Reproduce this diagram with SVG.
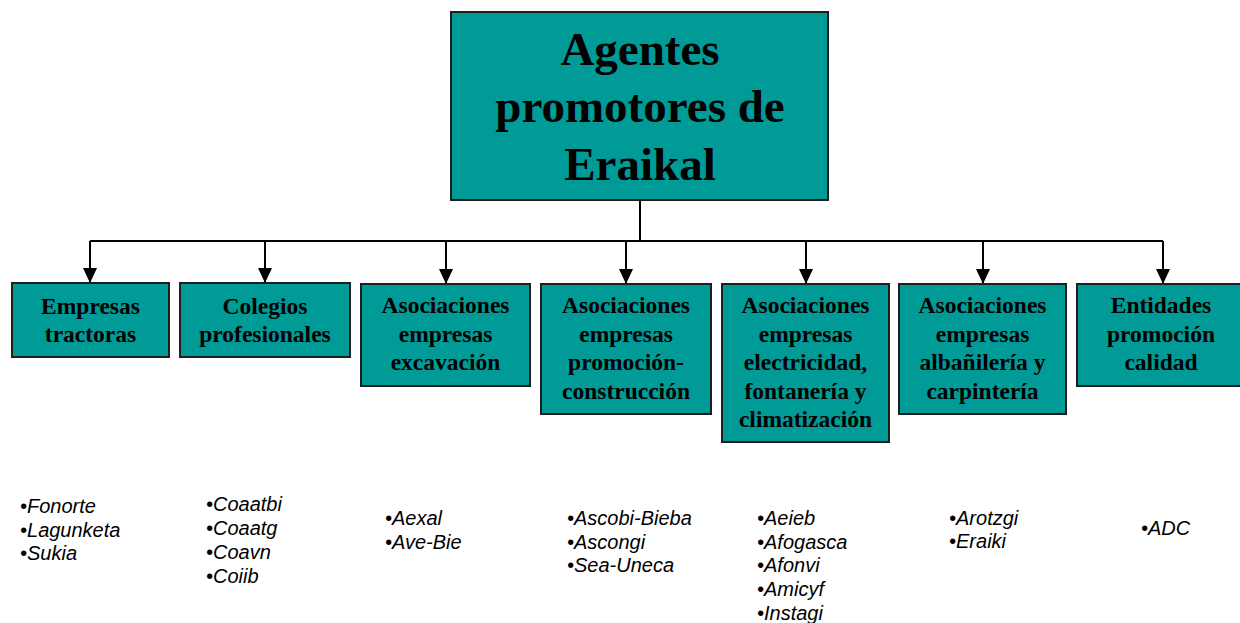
<svg xmlns="http://www.w3.org/2000/svg" width="1240" height="623" viewBox="0 0 1240 623">
<style>
.box{fill:#009a97;stroke:#1e1e1e;stroke-width:2}
.t{font-family:"Liberation Serif","Times New Roman",serif;font-weight:bold;fill:#000;text-anchor:middle}
.tt{font-size:47px}
.ts{font-size:23.5px}
.l{font-family:"Liberation Sans",Arial,sans-serif;font-style:italic;font-size:20px;fill:#000}
.c{fill:none;stroke:#000;stroke-width:2}
</style>
<defs>
<marker id="ah" markerUnits="userSpaceOnUse" markerWidth="15" markerHeight="14" refX="15" refY="7" orient="auto" viewBox="0 0 15 14">
<path d="M0,0 L15,7 L0,14 Z" fill="#000"/>
</marker>
</defs>
<rect width="1240" height="623" fill="#fff"/>
<g id="connectors">
<path class="c" d="M640,200 V241"/>
<path class="c" d="M90,241 H1163"/>
<path class="c" d="M90,241 V283" marker-end="url(#ah)"/>
<path class="c" d="M265,241 V283" marker-end="url(#ah)"/>
<path class="c" d="M446,241 V284" marker-end="url(#ah)"/>
<path class="c" d="M626,241 V284" marker-end="url(#ah)"/>
<path class="c" d="M806,241 V284" marker-end="url(#ah)"/>
<path class="c" d="M983,241 V284" marker-end="url(#ah)"/>
<path class="c" d="M1163,241 V284" marker-end="url(#ah)"/>
</g>
<g id="root">
<rect class="box" x="451" y="12" width="377" height="188"/>
<text class="t tt" x="640" y="65">Agentes</text>
<text class="t tt" x="640" y="122">promotores de</text>
<text class="t tt" x="640" y="180">Eraikal</text>
</g>
<g id="n1">
<rect class="box" x="12" y="283" width="157" height="74"/>
<text class="t ts" x="90.5" y="314">Empresas</text>
<text class="t ts" x="90.5" y="342">tractoras</text>
</g>
<g id="n2">
<rect class="box" x="180" y="283" width="170" height="74"/>
<text class="t ts" x="265" y="314">Colegios</text>
<text class="t ts" x="265" y="342">profesionales</text>
</g>
<g id="n3">
<rect class="box" x="361" y="284" width="169" height="102"/>
<text class="t ts" x="445.5" y="313">Asociaciones</text>
<text class="t ts" x="445.5" y="341.5">empresas</text>
<text class="t ts" x="445.5" y="370">excavación</text>
</g>
<g id="n4">
<rect class="box" x="541" y="284" width="170" height="130"/>
<text class="t ts" x="626" y="313">Asociaciones</text>
<text class="t ts" x="626" y="341.5">empresas</text>
<text class="t ts" x="626" y="370">promoción-</text>
<text class="t ts" x="626" y="398.5">construcción</text>
</g>
<g id="n5">
<rect class="box" x="722" y="284" width="167" height="158"/>
<text class="t ts" x="805.5" y="313">Asociaciones</text>
<text class="t ts" x="805.5" y="341.5">empresas</text>
<text class="t ts" x="805.5" y="370">electricidad,</text>
<text class="t ts" x="805.5" y="398.5">fontanería y</text>
<text class="t ts" x="805.5" y="427">climatización</text>
</g>
<g id="n6">
<rect class="box" x="899" y="284" width="167" height="130"/>
<text class="t ts" x="982.5" y="313">Asociaciones</text>
<text class="t ts" x="982.5" y="341.5">empresas</text>
<text class="t ts" x="982.5" y="370">albañilería y</text>
<text class="t ts" x="982.5" y="398.5">carpintería</text>
</g>
<g id="n7">
<rect class="box" x="1077" y="284" width="168" height="102"/>
<text class="t ts" x="1161" y="313">Entidades</text>
<text class="t ts" x="1161" y="341.5">promoción</text>
<text class="t ts" x="1161" y="370">calidad</text>
</g>
<g id="lists">
<text class="l" x="20" y="513">•Fonorte</text>
<text class="l" x="20" y="537">•Lagunketa</text>
<text class="l" x="20" y="560">•Sukia</text>
<text class="l" x="206" y="511">•Coaatbi</text>
<text class="l" x="206" y="535">•Coaatg</text>
<text class="l" x="206" y="559">•Coavn</text>
<text class="l" x="206" y="583">•Coiib</text>
<text class="l" x="385" y="525">•Aexal</text>
<text class="l" x="385" y="549">•Ave-Bie</text>
<text class="l" x="567" y="525">•Ascobi-Bieba</text>
<text class="l" x="567" y="549">•Ascongi</text>
<text class="l" x="567" y="572">•Sea-Uneca</text>
<text class="l" x="757" y="525">•Aeieb</text>
<text class="l" x="757" y="549">•Afogasca</text>
<text class="l" x="757" y="572">•Afonvi</text>
<text class="l" x="757" y="596">•Amicyf</text>
<text class="l" x="757" y="620">•Instagi</text>
<text class="l" x="949" y="525">•Arotzgi</text>
<text class="l" x="949" y="548">•Eraiki</text>
<text class="l" x="1141" y="535">•ADC</text>
</g>
</svg>
